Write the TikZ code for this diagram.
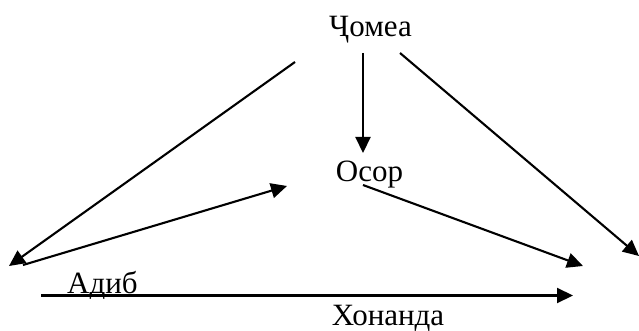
\documentclass[tikz,border=0pt]{standalone}
\usepackage{fontspec}
\setmainfont{Liberation Serif}
\usetikzlibrary{arrows.meta}
\tikzset{
  lbl/.style={anchor=base,inner sep=0pt,font=\fontsize{31}{33}\selectfont},
  arr/.style={line width=2.1pt,-{Triangle[length=16pt,width=15pt]}}
}
\begin{document}
\begin{tikzpicture}[x=1pt,y=-1pt]
\useasboundingbox (0,0) rectangle (639,331);
\node[lbl] (jomea) at (370.5,37) {Ҷомеа};
\node[lbl] (osor) at (369.5,182) {Осор};
\node[lbl] (adib) at (102.5,293) {Адиб};
\node[lbl] (khonanda) at (388,325) {Хонанда};
\coordinate (a1) at (295,62);
\coordinate (a2) at (9,266);
\coordinate (b1) at (23,265);
\coordinate (b2) at (287,186);
\coordinate (c1) at (363,53);
\coordinate (c2) at (363,153);
\coordinate (d1) at (400,53);
\coordinate (d2) at (639,256);
\coordinate (e1) at (363,185);
\coordinate (e2) at (583,266);
\coordinate (f1) at (41,295.5);
\coordinate (f2) at (573,295.5);
\draw[arr] (a1) -- (a2);
\draw[arr] (b1) -- (b2);
\draw[arr] (c1) -- (c2);
\draw[arr] (d1) -- (d2);
\draw[arr] (e1) -- (e2);
\draw[arr] (f1) -- (f2);
\end{tikzpicture}
\end{document}
